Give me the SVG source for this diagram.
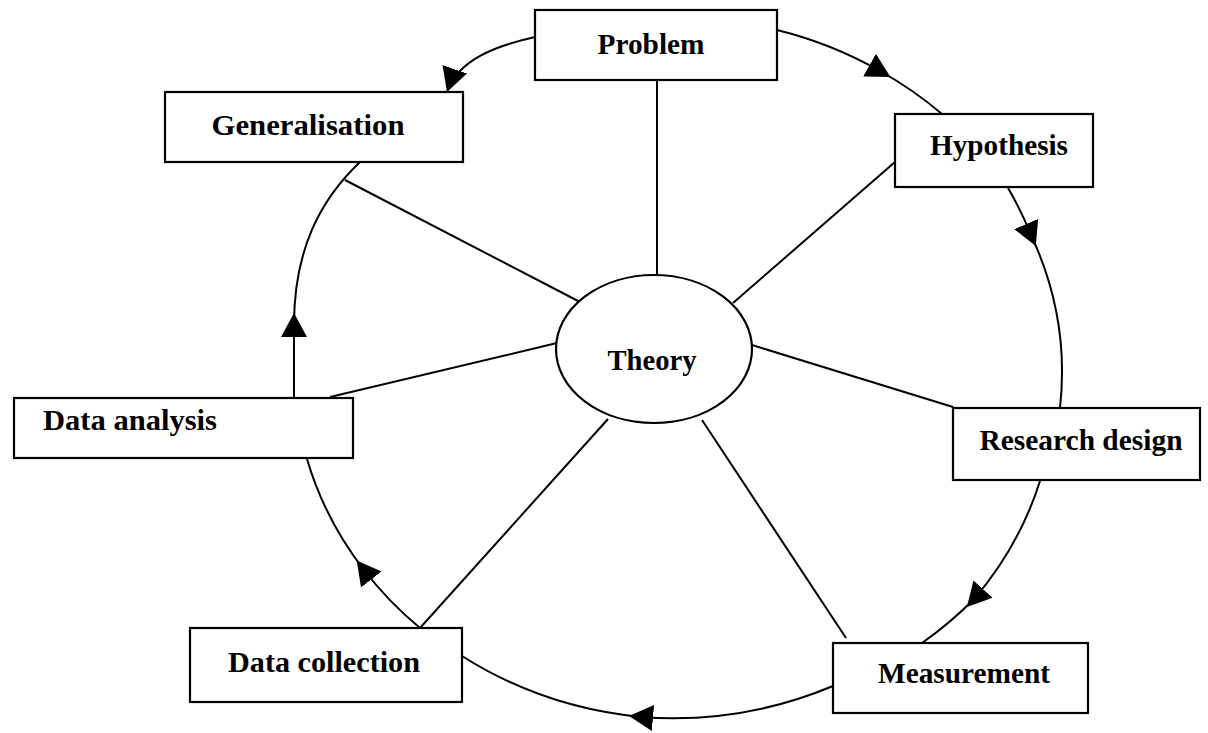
<svg xmlns="http://www.w3.org/2000/svg" width="1208" height="733" viewBox="0 0 1208 733">
<style>
.box{fill:#fff;stroke:#000;stroke-width:2.2}
.lbl{font-family:"Liberation Serif","Times New Roman",serif;font-weight:bold;font-size:29px;fill:#000}
.arc{fill:none;stroke:#000;stroke-width:2}
.spoke{fill:none;stroke:#000;stroke-width:2}
.mid{marker-mid:url(#ah)}
</style>
<defs>
<marker id="ah" viewBox="0 0 24 26" refX="12" refY="13" markerWidth="24" markerHeight="26" markerUnits="userSpaceOnUse" orient="auto"><path d="M0,0 L24,13 L0,26 z" fill="#000"/></marker>
<marker id="ahEnd" viewBox="0 0 24 26" refX="24" refY="13" markerWidth="24" markerHeight="26" markerUnits="userSpaceOnUse" orient="auto"><path d="M0,0 L24,13 L0,26 z" fill="#000"/></marker>
</defs>
<rect width="1208" height="733" fill="#fff"/>
<g id="connectors">
<path class="spoke" d="M657,80 L657,275"/>
<path class="spoke" d="M345,180 L580,302"/>
<path class="spoke" d="M733,303 L895,162"/>
<path class="spoke" d="M752,345 L953,407"/>
<path class="spoke" d="M330,397 L557,343"/>
<path class="spoke" d="M420,628 L608,419"/>
<path class="spoke" d="M702,420 L846,638"/>
<path class="arc mid" d="M777,30 A384,350 0 0 1 880,71 A384,350 0 0 1 942,114"/>
<path class="arc mid" d="M1008,188 A384,350 0 0 1 1031,235 A384,350 0 0 1 1060,408"/>
<path class="arc mid" d="M1040,481 A384,350 0 0 1 975,598 A384,350 0 0 1 922,643"/>
<path class="arc mid" d="M833,686 A384,350 0 0 1 641,717 A384,350 0 0 1 462,656"/>
<path class="arc mid" d="M420,628 A384,350 0 0 1 364,570 A384,350 0 0 1 307,459"/>
<path class="arc mid" d="M294,398 L294,325 C294,250 320,200 360,162"/>
<path class="arc" marker-end="url(#ahEnd)" d="M535,37 C495,46 458,60 447,92"/>
</g>
<g id="theory">
<ellipse cx="654" cy="349" rx="98" ry="74" fill="#fff" stroke="#000" stroke-width="2.2"/>
<text class="lbl" x="652" y="370" text-anchor="middle" textLength="89" lengthAdjust="spacingAndGlyphs">Theory</text>
</g>
<g id="problem">
<rect class="box" x="535" y="10" width="242" height="70"/>
<text class="lbl" x="651" y="54" text-anchor="middle" textLength="107" lengthAdjust="spacingAndGlyphs">Problem</text>
</g>
<g id="hypothesis">
<rect class="box" x="895" y="114" width="198" height="73"/>
<text class="lbl" x="999" y="155" text-anchor="middle" textLength="138" lengthAdjust="spacingAndGlyphs">Hypothesis</text>
</g>
<g id="research-design">
<rect class="box" x="953" y="408" width="247" height="72"/>
<text class="lbl" x="1081" y="450" text-anchor="middle" textLength="203" lengthAdjust="spacingAndGlyphs">Research design</text>
</g>
<g id="measurement">
<rect class="box" x="833" y="643" width="255" height="70"/>
<text class="lbl" x="964" y="683" text-anchor="middle" textLength="172" lengthAdjust="spacingAndGlyphs">Measurement</text>
</g>
<g id="data-collection">
<rect class="box" x="190" y="628" width="272" height="74"/>
<text class="lbl" x="324" y="672" text-anchor="middle" textLength="192" lengthAdjust="spacingAndGlyphs">Data collection</text>
</g>
<g id="data-analysis">
<rect class="box" x="14" y="398" width="339" height="60"/>
<text class="lbl" x="43" y="430" textLength="174" lengthAdjust="spacingAndGlyphs">Data analysis</text>
</g>
<g id="generalisation">
<rect class="box" x="165" y="92" width="298" height="70"/>
<text class="lbl" x="308" y="135" text-anchor="middle" textLength="193" lengthAdjust="spacingAndGlyphs">Generalisation</text>
</g>
</svg>
